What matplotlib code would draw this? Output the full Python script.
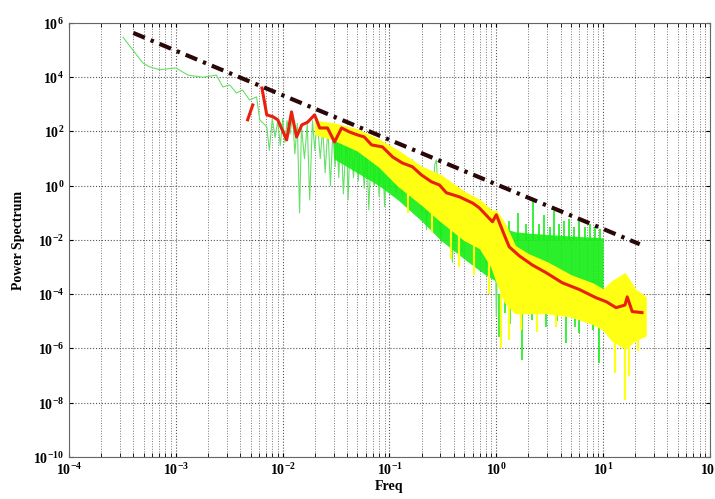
import numpy as np
import matplotlib.pyplot as plt

plt.rcParams['font.family'] = 'Liberation Serif'
plt.rcParams['font.weight'] = 'bold'
plt.rcParams['mathtext.fontset'] = 'custom'
plt.rcParams['mathtext.rm'] = 'Liberation Serif:bold'
plt.rcParams['mathtext.bf'] = 'Liberation Serif:bold'

nan = np.nan

green_f = [3.2e-4, 4.9e-4, 5.7e-4, 7.1e-4, 1.0e-3, 1.3e-3, 1.8e-3, 2.4e-3, 2.75e-3, 3.2e-3,
           3.7e-3, 4.2e-3, 4.9e-3, 5.7e-3, 6.1e-3, 7.1e-3, 7.5e-3, 8e-3, 8.5e-3, 9e-3,
           9.5e-3, 1.0e-2, 1.05e-2, 1.1e-2, 1.17e-2, 1.24e-2, 1.3e-2, 1.37e-2, 1.44e-2, 1.5e-2,
           1.6e-2, 1.7e-2, 1.79e-2, 1.9e-2, 2.0e-2, 2.1e-2, 2.25e-2, 2.37e-2, 2.5e-2, 2.65e-2,
           2.8e-2, 2.95e-2, 3.1e-2, 3.2e-2, 3.35e-2, 3.5e-2, 3.7e-2, 3.96e-2, 4.1e-2, 4.3e-2,
           4.6e-2, 4.9e-2, 5.1e-2, 5.4e-2, 5.8e-2, 6.1e-2, 6.4e-2, 6.8e-2, 7.2e-2, 7.6e-2,
           8.0e-2, 8.6e-2, 9.0e-2, 9.5e-2, 0.1, 0.107, 0.115, 0.122, 0.132, 0.14,
           0.154, 0.164, 0.175, 0.186, 0.2, 0.21, 0.222, 0.235, 0.25, 0.265,
           0.275, 0.29, 0.306, 0.32, 0.34, 0.36, 0.388, 0.41, 0.44, 0.48,
           0.5, 0.55, 0.6, 0.65, 0.7, 0.75, 0.81, 0.86, 0.92, 0.97, 1.0, 1.04]
green_p = [3.0e5, 3.4e4, 2.4e4, 1.9e4, 2.2e4, 1.2e4, 1.0e4, 1.2e4, 4.4e3, 5.2e3,
           2.6e3, 3.4e3, 1.45e3, 1.9e3, 2.7e2, 150, 20, 300, 60, 250,
           30, 300, 40, 250, 80, 400, 15, 200, 0.1, 150,
           10, 200, 0.3, 250, 20, 300, 10, 150, 3, 150,
           1, 100, 5, 120, 2, 150, 0.5, 100, 0.3, 90,
           2, 80, 1.5, 70, 0.8, 50, 0.13, 40, 1, 30,
           0.4, 25, 0.17, 20, 1, 18, 0.5, 12, 0.4, 10,
           0.13, 9, 0.5, 5, 0.1, 4, 0.024, 3, 0.05, 6,
           9, 0.1, 0.008, 2, 0.03, 1.2, 0.0015, 0.8, 0.01, 0.0034,
           0.6, 0.01, 0.4, 0.0056, 0.2, 0.02, 0.001, 0.15, 0.005, 0.1, 1.5e-5, 0.05]

# dense part of the raw spectrum
gband_f = [0.03, 0.05, 0.08, 0.12, 0.2, 0.3, 0.5, 0.8, 1.0, 1.1, 1.5, 2, 3, 5, 7, 10]
gband_hi = [150, 90, 40, 15, 5, 2.5, 0.6, 0.15, 0.08, 0.03, 0.02, 0.018, 0.016, 0.014, 0.013, 0.012]
gband_lo = [10, 3, 1, 0.3, 0.05, 0.01, 2e-3, 5e-4, 3e-4, 2e-4, 2e-4, 2e-4, 2e-4, 1.5e-4, 1.5e-4, 1.2e-4]

gspike_f = [1.07, 1.2, 1.35, 1.5, 1.75, 1.95, 2.17, 2.4, 2.65, 2.93, 3.3, 3.7, 4.1, 4.5, 5.0,
            5.5, 5.97, 6.5, 7.2, 8.0, 8.6, 9.2, 9.7,
            1.3, 1.6, 1.9, 2.2, 2.5, 2.8, 3.2, 3.5, 3.9, 4.3, 4.8, 5.3, 6.0, 6.8, 7.6, 8.4, 9.4]
gspike_lo = [2.7e-6, 2e-5, 8e-6, 3e-5, 3.9e-7, 2e-5, 1.15e-5, 4e-5, 2e-5, 6.3e-6, 3e-5, 1e-5, 4e-5, 1.6e-6, 2e-5,
             6e-6, 3.8e-6, 3e-5, 1e-5, 5e-6, 2e-5, 3e-7, 2e-5,
             0.01, 0.01, 0.01, 0.01, 0.01, 0.01, 0.01, 0.01, 0.01, 0.01, 0.01, 0.01, 0.01, 0.01, 0.01, 0.01, 0.01]
gspike_hi = [1e-4, 1e-4, 1e-4, 1e-4, 1e-4, 1e-4, 1e-4, 1e-4, 1e-4, 1e-4, 1e-4, 1e-4, 1e-4, 1e-4, 1e-4,
             1e-4, 1e-4, 1e-4, 1e-4, 1e-4, 1e-4, 1e-4, 1e-4,
             0.05, 0.1, 0.04, 0.3, 0.04, 0.08, 0.03, 0.12, 0.04, 0.05, 0.06, 0.03, 0.05, 0.03, 0.04, 0.03, 0.025]

# smoothed band (yellow)
yellow_f = [2e-2, 3e-2, 5e-2, 8e-2, 0.12, 0.2, 0.3, 0.5, 0.7, 0.9, 1.0,
            1.2, 1.5, 2, 3, 5, 8, 10, 12, 16, 20, 25]
yellow_hi = [250, 200, 120, 50, 20, 5, 2.5, 0.6, 0.3, 0.12, 0.12,
             0.04, 6e-3, 3e-3, 1.5e-3, 5e-4, 2.5e-4, 1.5e-4, 3e-4, 6e-4, 1.5e-4, 8e-5]
yellow_lo = [80, 50, 20, 5, 1, 0.2, 0.05, 0.01, 5e-3, 1e-3, 3e-4,
             5e-5, 2e-5, 2e-5, 2e-5, 1.5e-5, 8e-6, 5e-6, 2e-6, 1e-6, 2e-6, 3e-6]
yspike_f = [0.15, 0.25, 0.38, 0.45, 0.62, 0.85, 1.1, 1.3, 1.7, 2.4, 3.6, 13.0, 16.0, 17.5, 21.0]
yspike_lo = [0.1, 0.02, 2e-3, 1e-3, 5e-4, 1e-4, 1e-6, 2e-6, 5e-6, 4e-6, 6e-6, 1.3e-7, 1.3e-8, 1e-7, 8e-7]
yspike_hi = [2, 0.5, 0.1, 0.05, 0.02, 3e-3, 1e-4, 1e-4, 1e-4, 1e-4, 1e-4, 1e-5, 4.4e-4, 1e-5, 1e-5]

# averaged spectrum (red)
red_f = [4.7e-3, 5.25e-3, nan, 6.4e-3, 7.1e-3, 8.1e-3, 9.0e-3, 1.09e-2, 1.21e-2, 1.35e-2,
         1.51e-2, 1.71e-2, 1.99e-2, 2.22e-2, 2.63e-2, 3.06e-2, 3.56e-2, 4.2e-2, 5.0e-2, 5.8e-2,
         6.8e-2, 8.6e-2, 0.107, 0.132, 0.164, 0.199, 0.247, 0.293, 0.341, 0.451,
         0.60, 0.69, 0.92, 1.0, 1.07, 1.19, 1.32, 1.64, 2.17, 2.93,
         4.14, 5.97, 8.6, 10.7, 13.2, 16.0, 16.8, 18.7, 23.1]
red_p = [2.7e2, 9.5e2, nan, 4.0e3, 4.1e2, 3.5e2, 2.7e2, 49, 5.3e2, 63,
         1.75e2, 2.2e2, 4.1e2, 1.35e2, 1.35e2, 41, 1.35e2, 97, 75, 63,
         32, 27, 11.5, 6.9, 5.0, 2.5, 1.4, 1.07, 0.55, 0.39,
         0.23, 0.155, 0.047, 0.085, 0.043, 0.015, 5.6e-3, 2.6e-3, 1.2e-3, 6.2e-4,
         2.65e-4, 1.5e-4, 7.4e-5, 5.3e-5, 3.2e-5, 4e-5, 8e-5, 2.3e-5, 2.1e-5]

# -5/3 reference line
ref_f = [4.0e-4, 22.0]
ref_p = [4.3e5, 7.0e-3]

xticks = [1e-4, 1e-3, 1e-2, 1e-1, 1e0, 1e1, 1e2]
xlabels = [r'$10^{-4}$', r'$10^{-3}$', r'$10^{-2}$', r'$10^{-1}$', r'$10^{0}$', r'$10^{1}$', r'$10^{2}$']
yticks = [1e-10, 1e-8, 1e-6, 1e-4, 1e-2, 1e0, 1e2, 1e4, 1e6]
ylabels = [r'$10^{-10}$', r'$10^{-8}$', r'$10^{-6}$', r'$10^{-4}$', r'$10^{-2}$', r'$10^{0}$',
           r'$10^{2}$', r'$10^{4}$', r'$10^{6}$']

fig = plt.figure(figsize=(7.15, 4.99), dpi=100)
ax = fig.add_axes([0.0965, 0.0842, 0.8965, 0.8697])
ax.set_xscale('log')
ax.set_yscale('log')

gcol = '#14ee14'
ycol = '#ffff14'
ax.plot(green_f, green_p, color='#66e066', lw=0.8, zorder=2)
ax.fill_between(gband_f, gband_lo, gband_hi, color=gcol, lw=0, alpha=0.9, zorder=2)
ax.vlines(gspike_f, gspike_lo, gspike_hi, color=gcol, lw=1.3, alpha=0.9, zorder=2)
ax.fill_between(yellow_f, yellow_lo, yellow_hi, color=ycol, lw=0.8, zorder=3)
ax.vlines(yspike_f, yspike_lo, yspike_hi, color=ycol, lw=1.6, zorder=3)
ax.plot(red_f, red_p, color='#e8200c', lw=2.2, zorder=4)
ax.plot(ref_f, ref_p, color='#2a0808', lw=3, linestyle=(0, (3, 1.5, 0.8, 1.5)), zorder=5)

ax.set_xlim(1e-4, 1e2)
ax.set_ylim(1e-10, 1e6)
ax.set_xticks(xticks)
ax.set_xticklabels(xlabels, fontsize=10)
ax.set_yticks(yticks)
ax.set_yticklabels(ylabels, fontsize=10)
ax.yaxis.set_minor_locator(plt.NullLocator())
ax.grid(True, which='major', linestyle=':', color='#555555', lw=0.8)
ax.grid(True, which='minor', axis='x', linestyle=':', color='#777777', lw=0.7)
ax.tick_params(which='both', direction='in', top=True, right=True, length=3)
for s in ax.spines.values():
    s.set_color('#666666')
ax.set_xlabel('Freq', fontweight='bold', fontsize=10, labelpad=1)
ax.set_ylabel('Power Spectrum', fontweight='bold', fontsize=10, labelpad=6)

fig.savefig('out.png', dpi=100)
